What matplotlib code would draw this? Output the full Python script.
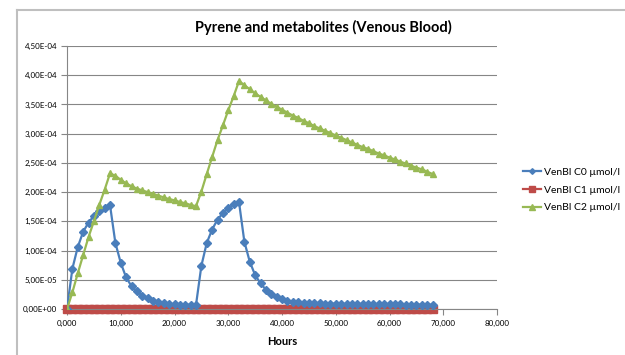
import numpy as np
import matplotlib
matplotlib.use("Agg")
import matplotlib.pyplot as plt
from matplotlib.lines import Line2D
from matplotlib.ticker import FuncFormatter

plt.rcParams['font.family'] = ['Lato', 'DejaVu Sans']

# hours, one value per hour
hours = np.arange(0, 69)

# VenBl C0 (umol/l)
c0 = [0.0, 6.9e-5, 1.06e-4, 1.32e-4, 1.48e-4, 1.59e-4, 1.67e-4, 1.72e-4, 1.78e-4,
      1.13e-4, 7.9e-5, 5.4e-5, 3.9e-5, 3.0e-5, 2.3e-5, 1.8e-5, 1.4e-5, 1.2e-5,
      9.7e-6, 8.6e-6, 8.0e-6, 7.6e-6, 7.3e-6, 7.1e-6, 6.9e-6,
      7.4e-5, 1.13e-4, 1.36e-4, 1.53e-4, 1.64e-4, 1.73e-4, 1.79e-4, 1.83e-4,
      1.15e-4, 8.1e-5, 5.8e-5, 4.4e-5, 3.3e-5, 2.6e-5, 2.0e-5, 1.66e-5, 1.4e-5,
      1.25e-5, 1.15e-5, 1.08e-5, 1.02e-5, 9.8e-6, 9.5e-6, 9.3e-6, 9.1e-6, 8.9e-6,
      8.8e-6, 8.7e-6, 8.6e-6, 8.5e-6, 8.4e-6, 8.3e-6, 8.2e-6, 8.1e-6, 8.0e-6,
      7.9e-6, 7.8e-6, 7.7e-6, 7.6e-6, 7.5e-6, 7.4e-6, 7.3e-6, 7.2e-6, 7.1e-6]

# VenBl C1 (umol/l) - sits on zero the whole time
c1 = [0.0, 0.0, 0.0, 0.0, 0.0, 0.0, 0.0, 0.0, 0.0, 0.0, 0.0, 0.0, 0.0, 0.0,
      0.0, 0.0, 0.0, 0.0, 0.0, 0.0, 0.0, 0.0, 0.0, 0.0, 0.0, 0.0, 0.0, 0.0,
      0.0, 0.0, 0.0, 0.0, 0.0, 0.0, 0.0, 0.0, 0.0, 0.0, 0.0, 0.0, 0.0, 0.0,
      0.0, 0.0, 0.0, 0.0, 0.0, 0.0, 0.0, 0.0, 0.0, 0.0, 0.0, 0.0, 0.0, 0.0,
      0.0, 0.0, 0.0, 0.0, 0.0, 0.0, 0.0, 0.0, 0.0, 0.0, 0.0, 0.0, 0.0]

# VenBl C2 (umol/l)
c2 = [0.0, 2.84e-5, 6.1e-5, 9.2e-5, 1.23e-4, 1.50e-4, 1.78e-4, 2.04e-4, 2.32e-4,
      2.28e-4, 2.21e-4, 2.15e-4, 2.10e-4, 2.06e-4, 2.03e-4, 2.00e-4, 1.97e-4,
      1.94e-4, 1.91e-4, 1.88e-4, 1.86e-4, 1.83e-4, 1.81e-4, 1.78e-4, 1.76e-4,
      2.01e-4, 2.31e-4, 2.60e-4, 2.89e-4, 3.14e-4, 3.40e-4, 3.64e-4, 3.90e-4,
      3.83e-4, 3.76e-4, 3.69e-4, 3.63e-4, 3.57e-4, 3.51e-4, 3.46e-4, 3.41e-4,
      3.36e-4, 3.31e-4, 3.27e-4, 3.22e-4, 3.18e-4, 3.13e-4, 3.09e-4, 3.05e-4,
      3.01e-4, 2.97e-4, 2.93e-4, 2.89e-4, 2.85e-4, 2.81e-4, 2.77e-4, 2.74e-4,
      2.70e-4, 2.66e-4, 2.63e-4, 2.59e-4, 2.56e-4, 2.52e-4, 2.49e-4, 2.45e-4,
      2.42e-4, 2.39e-4, 2.35e-4, 2.31e-4]

fig = plt.figure(figsize=(6.25, 3.55), dpi=100)
ax = fig.add_axes([67/625, 1-309/355, 430/625, 263/355])

ax.plot(hours, c0, color="#4A7EBB", marker="D", markersize=3.6, lw=1.6,
        label="VenBl C0 µmol/l", zorder=3)
ax.plot(hours, c1, color="#BE4B48", marker="s", markersize=5.5, lw=1.6,
        label="VenBl C1 µmol/l", zorder=2, clip_on=False)
ax.plot(hours, c2, color="#98B954", marker="^", markersize=5, lw=1.6,
        label="VenBl C2 µmol/l", zorder=4)

ax.set_xlim(0, 80)
ax.set_ylim(0, 4.5e-4)
ax.set_xticks(np.arange(0, 81, 10))
ax.set_yticks(np.arange(0, 4.51e-4, 0.5e-4))
ax.xaxis.set_major_formatter(FuncFormatter(lambda v, p: f"{v:.3f}".replace(".", ",")))
ax.yaxis.set_major_formatter(FuncFormatter(lambda v, p: f"{v:.2E}".replace(".", ",")))
ax.tick_params(labelsize=5.8, length=4, color="#868686", width=0.8, pad=3)
ax.tick_params(axis="x", pad=4)
ax.grid(axis="y", color="#868686", lw=0.8)
ax.set_axisbelow(True)
for s in ["top", "right"]:
    ax.spines[s].set_visible(False)
for s in ["left", "bottom"]:
    ax.spines[s].set_color("#868686")
    ax.spines[s].set_linewidth(0.8)

ax.set_xlabel("Hours", fontsize=8, fontweight="bold", labelpad=6)
fig.text(323/625, 1-27/355, "Pyrene and metabolites (Venous Blood)",
         ha="center", va="center", fontsize=10.5, fontweight="bold")

leg = ax.legend(loc="center left", bbox_to_anchor=(514/625, 1-190/355),
                bbox_transform=fig.transFigure, frameon=False, fontsize=7.5,
                handlelength=1.7, handletextpad=0.25, labelspacing=0.8,
                markerscale=0.8)

# chart frame (only top and left edges visible)
fig.add_artist(Line2D([17/625, 1], [1-10/355, 1-10/355], transform=fig.transFigure,
                      color="#BFBFBF", lw=1.5))
fig.add_artist(Line2D([17/625, 17/625], [0, 1-10/355], transform=fig.transFigure,
                      color="#BFBFBF", lw=1.5))

fig.savefig("out.png", dpi=100)
